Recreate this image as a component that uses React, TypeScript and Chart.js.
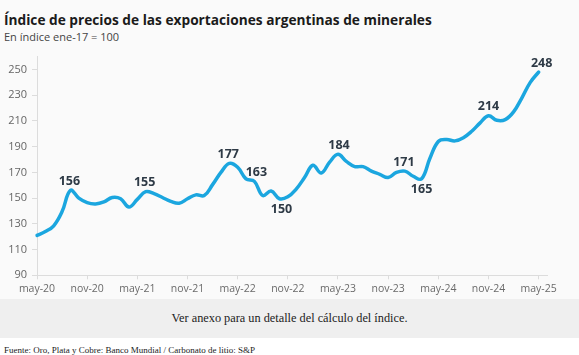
import React, { useEffect, useRef } from 'react';
import { Chart, registerables } from 'chart.js';

Chart.register(...registerables);

// Monthly categories (x axis), may-20 .. jun-25
const months = [
  'may-20', 'jun-20', 'jul-20', 'ago-20', 'sep-20', 'oct-20', 'nov-20', 'dic-20',
  'ene-21', 'feb-21', 'mar-21', 'abr-21', 'may-21', 'jun-21', 'jul-21', 'ago-21', 'sep-21', 'oct-21', 'nov-21', 'dic-21',
  'ene-22', 'feb-22', 'mar-22', 'abr-22', 'may-22', 'jun-22', 'jul-22', 'ago-22', 'sep-22', 'oct-22', 'nov-22', 'dic-22',
  'ene-23', 'feb-23', 'mar-23', 'abr-23', 'may-23', 'jun-23', 'jul-23', 'ago-23', 'sep-23', 'oct-23', 'nov-23', 'dic-23',
  'ene-24', 'feb-24', 'mar-24', 'abr-24', 'may-24', 'jun-24', 'jul-24', 'ago-24', 'sep-24', 'oct-24', 'nov-24', 'dic-24',
  'ene-25', 'feb-25', 'mar-25', 'abr-25', 'may-25', 'jun-25',
];

// Export price index (ene-17 = 100)
const indexValues = [
  121, 124, 128.5, 139.5, 156, 150, 146.5, 145.5,
  147, 150.5, 149.5, 143, 149, 155, 153.5, 150.5, 147.5, 146, 149.5, 152.5,
  152, 160.5, 170, 177, 174, 165, 163, 152, 155.5, 149.5, 151, 157,
  166, 175.5, 169.5, 178, 184, 178.5, 174.5, 174.5, 171, 168.5, 166, 170,
  171, 167, 165, 181, 194, 195.5, 194.5, 197, 202, 208.5, 214, 210.5,
  211, 217, 228, 240, 248,
];

// Y axis ticks
const yTicks = [90, 110, 130, 150, 170, 190, 210, 230, 250];

// Annotated points
const labelIndex = [4, 13, 23, 26, 29, 36, 44, 46, 54, 60];
const labelText = ['156', '155', '177', '163', '150', '184', '171', '165', '214', '248'];
const labelBelow = [false, false, false, false, true, false, false, true, false, false];

const labelDx = [-1, -1, -1, 2, 2, 1, -1, 0, 0, 3];

const pointLabels = {
  id: 'pointLabels',
  afterDatasetsDraw(chart: any) {
    const meta = chart.getDatasetMeta(0);
    const ctx = chart.ctx;
    ctx.save();
    ctx.font = '700 12.5px "Open Sans"';
    ctx.fillStyle = '#2e3a46';
    ctx.textAlign = 'center';
    ctx.textBaseline = 'middle';
    labelIndex.forEach((idx, k) => {
      const pt = meta.data[idx];
      if (!pt) return;
      const dy = labelBelow[k] ? 11 : -9;
      ctx.fillText(labelText[k], pt.x + labelDx[k], pt.y + dy);
    });
    ctx.restore();
  },
};

export default function App() {
  const ref = useRef<HTMLCanvasElement>(null);

  useEffect(() => {
    document.body.style.margin = '0';
    const canvas = ref.current;
    if (!canvas) return;
    const axisColor = '#dcdcdc';
    const chart = new Chart(canvas, {
      type: 'line',
      data: {
        labels: months,
        datasets: [
          {
            data: indexValues,
            borderColor: '#1ba6df',
            borderWidth: 3.5,
            pointRadius: 0,
            tension: 0.4,
            fill: false,
            borderCapStyle: 'round',
            borderJoinStyle: 'round',
          },
        ],
      },
      options: {
        animation: false,
        responsive: false,
        maintainAspectRatio: false,
        layout: { padding: { top: 11.4, right: 32, left: 0, bottom: 0 } },
        plugins: { legend: { display: false }, tooltip: { enabled: false } },
        scales: {
          x: {
            type: 'category',
            offset: false,
            grid: { display: true, drawOnChartArea: false, drawTicks: true, tickLength: 4, color: axisColor },
            border: { display: true, color: axisColor, width: 1 },
            ticks: {
              autoSkip: false,
              maxRotation: 0,
              minRotation: 0,
              padding: 3,
              color: '#6a6a6a',
              font: { family: 'Open Sans', size: 10.5 },
            },
            afterBuildTicks: (s: any) => {
              s.ticks = s.ticks.filter((t: any) => t.value % 6 === 0);
            },
            afterFit: (s: any) => {
              s.height = 22.7;
            },
          },
          y: {
            min: 90,
            max: 260,
            grid: { display: true, drawOnChartArea: false, drawTicks: true, tickLength: 5, color: axisColor },
            border: { display: true, color: axisColor, width: 1 },
            ticks: {
              padding: 5,
              color: '#666666',
              font: { family: 'Open Sans', size: 11 },
            },
            afterBuildTicks: (s: any) => {
              s.ticks = yTicks.map((v) => ({ value: v }));
            },
            afterFit: (s: any) => {
              s.width = 37;
            },
          },
        },
      },
      plugins: [pointLabels],
    });
    return () => chart.destroy();
  }, []);

  return (
    <div
      style={{
        position: 'relative',
        width: 579,
        height: 355,
        background: '#fafafa',
        overflow: 'hidden',
      }}
    >
      <div
        style={{
          position: 'absolute',
          left: 4,
          top: 12.8,
          fontFamily: '"Open Sans"',
          fontWeight: 700,
          fontSize: 13.7,
          lineHeight: '13.7px',
          color: '#1b1b1b',
          whiteSpace: 'nowrap',
        }}
      >
        Índice de precios de las exportaciones argentinas de minerales
      </div>
      <div
        style={{
          position: 'absolute',
          left: 4,
          top: 30.7,
          fontFamily: '"Open Sans"',
          fontSize: 11,
          lineHeight: '11px',
          color: '#444444',
          whiteSpace: 'nowrap',
        }}
      >
        En índice ene-17 = 100
      </div>
      <canvas
        ref={ref}
        width={579}
        height={253}
        style={{ position: 'absolute', left: 0, top: 45, width: 579, height: 253 }}
      />
      <div
        style={{
          position: 'absolute',
          left: 0,
          top: 299,
          width: 579,
          height: 39,
          background: '#efefef',
          display: 'flex',
          alignItems: 'center',
          justifyContent: 'center',
          fontFamily: '"Liberation Serif"',
          fontSize: 12.3,
          color: '#222222',
        }}
      >
        Ver anexo para un detalle del cálculo del índice.
      </div>
      <div
        style={{
          position: 'absolute',
          left: 0,
          top: 338,
          width: 579,
          height: 17,
          background: '#ffffff',
        }}
      />
      <div
        style={{
          position: 'absolute',
          left: 4,
          top: 345.5,
          fontFamily: '"Liberation Serif"',
          fontSize: 9,
          lineHeight: '9px',
          color: '#222222',
          whiteSpace: 'nowrap',
        }}
      >
        Fuente: Oro, Plata y Cobre: Banco Mundial / Carbonato de litio: S&amp;P
      </div>
    </div>
  );
}
